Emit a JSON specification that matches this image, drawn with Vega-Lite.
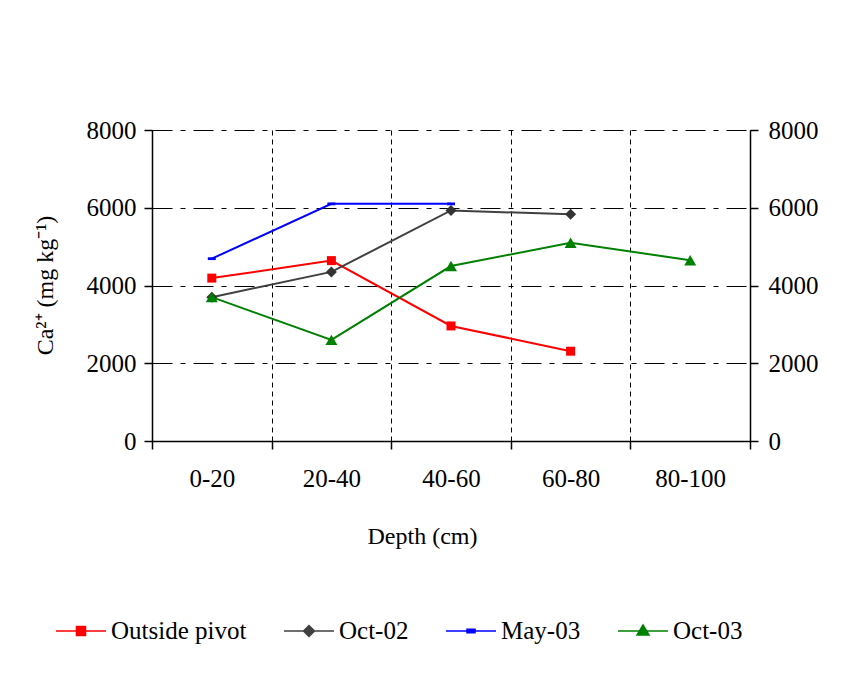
{
  "$schema": "https://vega.github.io/schema/vega-lite/v6.json",
  "autosize": {"type": "none"},
  "width": 598,
  "height": 311,
  "padding": {"left": 152, "top": 130, "right": 111, "bottom": 232},
  "background": "white",
  "config": {
    "view": {"stroke": null},
    "font": "Liberation Serif",
    "axis": {"labelFont": "Liberation Serif", "titleFont": "Liberation Serif", "labelColor": "black", "titleColor": "black", "domainColor": "black", "tickColor": "black", "titleFontWeight": "normal"}
  },
  "data": {"values": [
    {"depth": "0-20", "series": "Outside pivot", "value": 4190},
    {"depth": "20-40", "series": "Outside pivot", "value": 4640},
    {"depth": "40-60", "series": "Outside pivot", "value": 2960},
    {"depth": "60-80", "series": "Outside pivot", "value": 2310},
    {"depth": "0-20", "series": "Oct-02", "value": 3700},
    {"depth": "20-40", "series": "Oct-02", "value": 4350},
    {"depth": "40-60", "series": "Oct-02", "value": 5930},
    {"depth": "60-80", "series": "Oct-02", "value": 5830},
    {"depth": "0-20", "series": "May-03", "value": 4690},
    {"depth": "20-40", "series": "May-03", "value": 6100},
    {"depth": "40-60", "series": "May-03", "value": 6100},
    {"depth": "0-20", "series": "Oct-03", "value": 3700},
    {"depth": "20-40", "series": "Oct-03", "value": 2600},
    {"depth": "40-60", "series": "Oct-03", "value": 4500},
    {"depth": "60-80", "series": "Oct-03", "value": 5100},
    {"depth": "80-100", "series": "Oct-03", "value": 4650}
  ]},
  "encoding": {
    "x": {
      "field": "depth", "type": "nominal", "bandPosition": 0.5,
      "sort": ["0-20", "20-40", "40-60", "60-80", "80-100"],
      "scale": {"type": "band", "domain": ["0-20", "20-40", "40-60", "60-80", "80-100"], "paddingInner": 0, "paddingOuter": 0},
      "axis": {
        "title": "Depth (cm)", "titleFontSize": 24, "titleX": 270, "titleY": 102, "titleBaseline": "alphabetic", "titleAnchor": null,
        "labelFontSize": 25, "labelAngle": 0, "labelPadding": 17, "tickSize": 8, "tickBand": "extent",
        "grid": true, "gridColor": "black", "gridDash": [5, 4], "gridWidth": 1, "gridOpacity": 1, "domainWidth": 1.5, "tickWidth": 1.5
      }
    },
    "y": {
      "field": "value", "type": "quantitative",
      "scale": {"domain": [0, 8000], "nice": false, "zero": true}
    }
  },
  "layer": [
    {
      "mark": {"type": "line", "strokeWidth": 2},
      "encoding": {
        "y": {
          "field": "value", "type": "quantitative",
          "axis": {
            "orient": "left", "values": [0, 2000, 4000, 6000, 8000], "format": "d", "title": "Ca²⁺ (mg kg⁻¹)", "titleFontSize": 24,
            "titleX": -107, "titleY": 155, "titleAlign": "center", "titleBaseline": "middle", "titleAngle": -90,
            "labelFontSize": 25, "labelPadding": 8, "tickSize": 8, "domainWidth": 1.5, "tickWidth": 1.5,
            "grid": true, "gridColor": "black", "gridDash": [20, 8, 5, 8], "gridWidth": 1, "gridOpacity": 1
          }
        },
        "color": {
          "field": "series", "type": "nominal",
          "scale": {"domain": ["Outside pivot", "Oct-02", "May-03", "Oct-03"], "range": ["#ff0000", "#404040", "#0000ff", "#008000"]},
          "legend": {
            "title": null, "orient": "none", "direction": "horizontal", "columns": 4, "legendX": -97, "legendY": 475,
            "padding": 0, "columnPadding": 34, "symbolSize": 2500, "symbolStrokeWidth": 1.5, "labelOffset": 4,
            "labelFont": "Liberation Serif", "labelFontSize": 25, "labelColor": "black", "labelLimit": 300,
            "encode": {
              "symbols": {
                "update": {
                  "shape": {"signal": "datum.value == 'Outside pivot' ? 'M-1,0H1M-0.18,-0.18H0.18V0.18H-0.18Z' : datum.value == 'Oct-02' ? 'M-1,0H1M-0.22,0L0,-0.22L0.22,0L0,0.22Z' : datum.value == 'May-03' ? 'M-1,0H1M-0.16,-0.07H0.16V0.07H-0.16Z' : 'M-1,0H1M0,-0.24L0.24,0.16H-0.24Z'"},
                  "size": {"value": 2500},
                  "fill": {"signal": "scale('color', datum.value)"},
                  "stroke": {"signal": "scale('color', datum.value)"},
                  "strokeWidth": {"value": 1.5},
                  "strokeOpacity": {"value": 1},
                  "fillOpacity": {"value": 1},
                  "opacity": {"value": 1}
                }
              }
            }
          }
        }
      }
    },
    {
      "transform": [{"filter": "datum.series == 'Outside pivot'"}],
      "mark": {"type": "point", "filled": true, "opacity": 1, "shape": "square", "size": 81, "color": "#ff0000"},
      "encoding": {
        "y": {
          "field": "value", "type": "quantitative",
          "axis": {
            "orient": "right", "values": [0, 2000, 4000, 6000, 8000], "format": "d", "title": null,
            "labelFontSize": 25, "labelPadding": 10, "tickSize": 8, "domainWidth": 1.5, "tickWidth": 1.5, "grid": false
          }
        }
      }
    },
    {
      "transform": [{"filter": "datum.series == 'Oct-02'"}],
      "mark": {"type": "point", "filled": true, "opacity": 1, "shape": "diamond", "size": 121, "color": "#333333"},
      "encoding": {"y": {"field": "value", "type": "quantitative", "axis": null}}
    },
    {
      "transform": [{"filter": "datum.series == 'May-03'"}],
      "mark": {"type": "point", "filled": true, "opacity": 1, "shape": "M-1,-0.35H1V0.35H-1Z", "size": 64, "color": "#0000ff"},
      "encoding": {"y": {"field": "value", "type": "quantitative", "axis": null}}
    },
    {
      "transform": [{"filter": "datum.series == 'Oct-03'"}],
      "mark": {"type": "point", "filled": true, "opacity": 1, "shape": "triangle-up", "size": 144, "color": "#008000"},
      "encoding": {"y": {"field": "value", "type": "quantitative", "axis": null}}
    }
  ],
  "resolve": {"axis": {"y": "independent"}}
}
